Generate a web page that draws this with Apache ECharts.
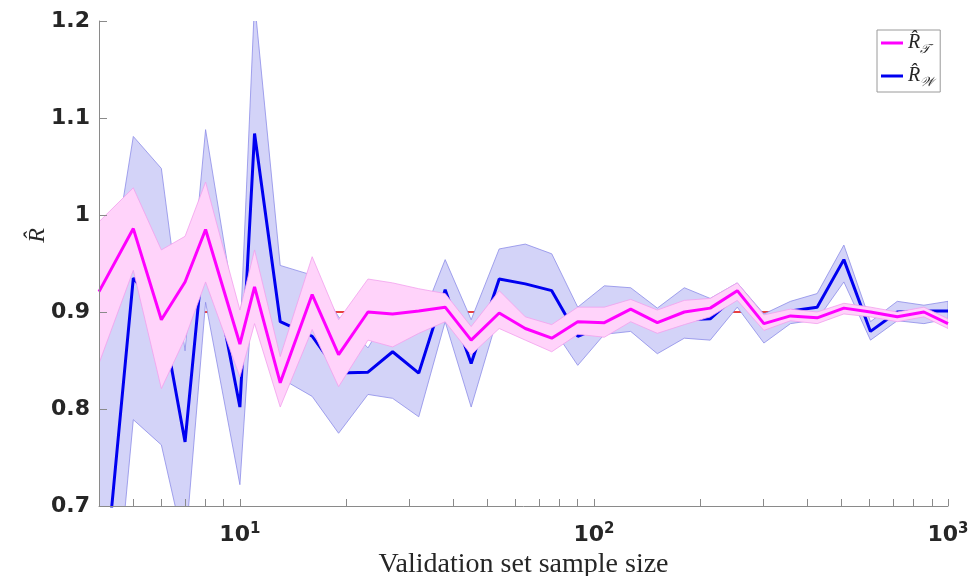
<!DOCTYPE html>
<html><head><meta charset="utf-8">
<script src="https://cdn.jsdelivr.net/npm/echarts@6/dist/echarts.min.js"></script>
<style>html,body{margin:0;padding:0;background:#fff}#c{width:972px;height:576px}</style>
</head><body><div id="c"></div>
<script>
// ---- data ----
const sampleSizes = [4,5,6,7,8,10,11,13,16,19,23,27,32,38,45,54,64,76,90,107,127,151,180,213,254,302,359,427,508,604,719,855,1000];
const rT      = [0.921,0.986,0.892,0.931,0.985,0.867,0.926,0.827,0.918,0.856,0.900,0.898,0.901,0.905,0.871,0.899,0.883,0.873,0.890,0.889,0.903,0.889,0.900,0.904,0.922,0.888,0.896,0.894,0.904,0.900,0.895,0.900,0.888];
const rTUpper = [0.993,1.028,0.964,0.978,1.034,0.902,0.964,0.854,0.957,0.892,0.934,0.930,0.924,0.919,0.885,0.922,0.895,0.887,0.905,0.905,0.913,0.902,0.912,0.914,0.930,0.897,0.903,0.900,0.909,0.905,0.900,0.905,0.893];
const rTLower = [0.847,0.943,0.821,0.873,0.931,0.833,0.888,0.802,0.882,0.823,0.871,0.864,0.878,0.890,0.856,0.883,0.871,0.859,0.877,0.874,0.890,0.878,0.887,0.895,0.912,0.881,0.891,0.888,0.898,0.895,0.890,0.895,0.883];
const rW      = [0.560,0.935,0.900,0.766,0.985,0.802,1.084,0.890,0.875,0.837,0.838,0.859,0.837,0.923,0.847,0.934,0.929,0.922,0.875,0.886,0.895,0.884,0.892,0.893,0.918,0.889,0.901,0.905,0.954,0.880,0.900,0.901,0.901];
const rWUpper = [0.860,1.081,1.048,0.860,1.088,0.871,1.220,0.948,0.938,0.895,0.863,0.905,0.885,0.954,0.892,0.965,0.970,0.960,0.905,0.927,0.925,0.904,0.925,0.914,0.930,0.898,0.911,0.919,0.969,0.890,0.911,0.907,0.911];
const rWLower = [0.410,0.789,0.763,0.655,0.910,0.722,0.950,0.832,0.813,0.775,0.815,0.811,0.792,0.890,0.802,0.900,0.893,0.885,0.845,0.877,0.880,0.857,0.873,0.871,0.905,0.868,0.888,0.892,0.931,0.871,0.891,0.888,0.893];
const trueValue = 0.9;
const xTickValues = [4,5,6,7,8,9,10,20,30,40,50,60,70,80,90,100,200,300,400,500,600,700,800,900,1000];
const xLabelValues = [10,100,1000];
const yMin = 0.7, yMax = 1.2, yStep = 0.1;

// ---- build ----
const pairs = (ys) => sampleSizes.map((x, i) => [x, ys[i]]);
const axisGrey = '#8a8a8a';
const txt = '#262626';

const chart = echarts.init(document.getElementById('c'), null, {renderer: 'canvas'});

function band(name, lo, hi, fill, edge, z) {
  return {
    name: name, type: 'custom', z: z, clip: true, silent: true,
    data: pairs(hi).concat(pairs(lo)),
    renderItem: function (params, api) {
      if (params.dataIndex !== 0) return null;
      const top = sampleSizes.map((x, i) => api.coord([x, hi[i]]));
      const bot = sampleSizes.map((x, i) => api.coord([x, lo[i]])).reverse();
      return {
        type: 'polygon',
        shape: {points: top.concat(bot)},
        style: {fill: fill, stroke: edge, lineWidth: 0.8}
      };
    }
  };
}

chart.setOption({
  animation: false,
  backgroundColor: '#ffffff',
  grid: {left: 99, right: 24, top: 21, bottom: 70, containLabel: false, outerBoundsMode: 'none'},
  legend: {
    show: true,
    data: ['T', 'W'],
    icon: 'rect',
    orient: 'vertical', left: 877, top: 30,
    itemWidth: 22, itemHeight: 3, itemGap: 10,
    padding: [3, 6, 3, 4],
    borderColor: '#9a9a9a', borderWidth: 1, backgroundColor: '#fff',
    formatter: (n) => n === 'T' ? '{r|R\u0302}{s|\uD835\uDCAF}' : '{r|R\u0302}{s|\uD835\uDCB2}',
    textStyle: {
      color: txt,
      rich: {
        r: {fontFamily: 'Liberation Serif', fontStyle: 'italic', fontSize: 20, lineHeight: 26, verticalAlign: 'middle', color: txt},
        s: {fontFamily: 'DejaVu Serif', fontStyle: 'italic', fontSize: 13, lineHeight: 14, verticalAlign: 'bottom', color: txt}
      }
    }
  },
  xAxis: {
    type: 'log', logBase: 10, min: 4, max: 1000, z: 10,
    axisLine: {show: true, lineStyle: {color: axisGrey, width: 1}},
    axisTick: {show: true, inside: true, length: 7, customValues: xTickValues, lineStyle: {color: axisGrey}},
    minorTick: {show: false},
    splitLine: {show: false},
    axisLabel: {
      customValues: xLabelValues, margin: 16,
      formatter: (v) => '{b|10}{s|' + Math.round(Math.log10(v)) + '}',
      rich: {
        b: {fontFamily: 'DejaVu Sans', fontWeight: 'bold', fontSize: 22, lineHeight: 24, verticalAlign: 'bottom', color: txt},
        s: {fontFamily: 'DejaVu Sans', fontWeight: 'bold', fontSize: 15, lineHeight: 18, verticalAlign: 'top', color: txt}
      }
    },
    name: 'Validation set sample size', nameLocation: 'middle', nameGap: 45,
    nameTextStyle: {fontFamily: 'Liberation Serif', fontSize: 28, color: txt}
  },
  yAxis: {
    type: 'value', min: yMin, max: yMax, interval: yStep, z: 10,
    axisLine: {show: true, lineStyle: {color: axisGrey, width: 1}},
    axisTick: {show: true, inside: true, length: 8, lineStyle: {color: axisGrey}},
    splitLine: {show: false},
    axisLabel: {fontFamily: 'DejaVu Sans', fontWeight: 'bold', fontSize: 22, color: txt, margin: 9}
  },
  graphic: [{
    type: 'text', left: 26, top: 228, rotation: Math.PI / 2,
    style: {text: 'R\u0302', fontFamily: 'Liberation Serif', fontStyle: 'italic', fontSize: 24, fill: txt}
  }],
  series: [
    {name: 'truth', type: 'line', data: [[sampleSizes[0], trueValue], [sampleSizes[sampleSizes.length - 1], trueValue]],
     symbol: 'none', z: 1, lineStyle: {color: '#e00000', width: 1.5}, silent: true},
    band('Wband', rWLower, rWUpper, '#d3d3f8', '#8d8de8', 2),
    {name: 'W', type: 'line', data: pairs(rW), symbol: 'none', z: 3, clip: true,
     lineStyle: {color: '#0000f0', width: 3}, itemStyle: {color: '#0000f0'}, color: '#0000f0'},
    band('Tband', rTLower, rTUpper, '#ffd3fa', '#f2a0ee', 4),
    {name: 'T', type: 'line', data: pairs(rT), symbol: 'none', z: 5, clip: true,
     lineStyle: {color: '#ff00ff', width: 3}, itemStyle: {color: '#ff00ff'}, color: '#ff00ff'}
  ]
});
</script></body></html>
